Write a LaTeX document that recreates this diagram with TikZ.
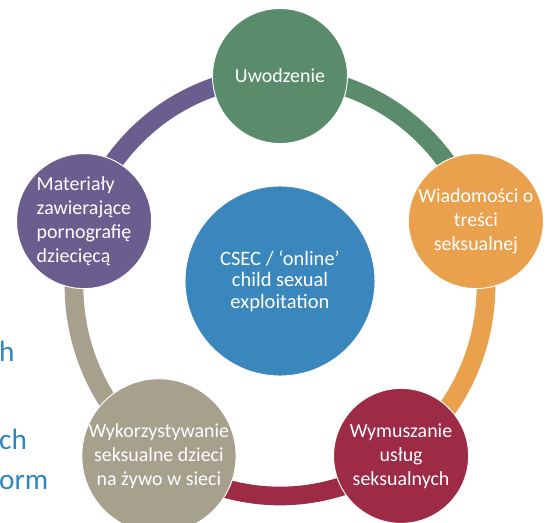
\documentclass[tikz,border=0pt]{standalone}
\usepackage{fontspec}
\setmainfont{Carlito}
\usetikzlibrary{calc,backgrounds}
\definecolor{uwgreen}{RGB}{90,140,108}
\definecolor{wiorange}{RGB}{234,161,78}
\definecolor{wycrimson}{RGB}{158,43,69}
\definecolor{wkgray}{RGB}{167,160,141}
\definecolor{mapurple}{RGB}{106,94,142}
\definecolor{hubblue}{RGB}{58,135,190}
\definecolor{slideblue}{RGB}{46,134,193}

\begin{document}
\begin{tikzpicture}[x=0.03cm,y=0.03cm,
  stage/.style={circle,draw=white,line width=0.8pt,minimum size=4.05cm,inner sep=0pt,
    text=white,align=center,font=\fontsize{17}{20.5}\selectfont},
  hub/.style={stage,minimum size=5.7cm,fill=hubblue,font=\fontsize{17.5}{18.5}\selectfont},
  band/.style={line width=0.56cm},
  slidetext/.style={anchor=base west,inner sep=0pt,text=slideblue,font=\fontsize{25}{30}\selectfont}]
\useasboundingbox (0,0) rectangle (551,522);
\coordinate (c) at (280,236);
\node[hub] (hub) at (280,241) {CSEC / ‘online’\\child sexual\\exploitation};
\node[stage,fill=uwgreen] (uw) at ($(c)+(90:206 and 210)$) {Uwodzenie};
\node[stage,fill=wiorange] (wi) at ($(c)+(18:206 and 210)$) {Wiadomości o\\treści\\seksualnej};
\node[stage,fill=wycrimson] (wy) at ($(c)+(-54:206 and 210)$) {Wymuszanie\\usług\\seksualnych};
\node[stage,fill=wkgray] (wk) at ($(c)+(-126:206 and 210)$) {Wykorzystywanie\\seksualne dzieci\\na żywo w sieci};
\node[stage,fill=mapurple,align=left] (ma) at ($(c)+(162:206 and 210)$) {Materiały\\zawierające\\pornografię\\dziecięcą};
\begin{scope}[on background layer]
\draw[band,uwgreen] (uw.center) arc[start angle=90,end angle=18,x radius=206,y radius=210];
\draw[band,wiorange] (wi.center) arc[start angle=18,end angle=-54,x radius=206,y radius=210];
\draw[band,wycrimson] (wy.center) arc[start angle=-54,end angle=-126,x radius=206,y radius=210];
\draw[band,wkgray] (wk.center) arc[start angle=-126,end angle=-198,x radius=206,y radius=210];
\draw[band,mapurple] (ma.center) arc[start angle=162,end angle=90,x radius=206,y radius=210];
\end{scope}
% cut-off words of the slide behind
\node[slidetext] (s1) at (-1,160) {h};
\node[slidetext] (s2) at (-1,72) {ch};
\node[slidetext] (s3) at (-1,33) {orm};
\end{tikzpicture}
\end{document}
